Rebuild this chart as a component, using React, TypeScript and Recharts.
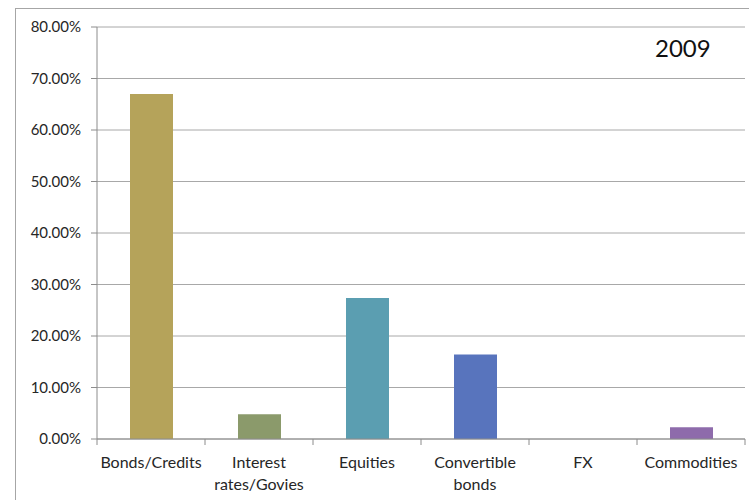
import React from 'react';
import { BarChart, Bar, XAxis, YAxis, CartesianGrid, Cell } from 'recharts';

const categories = ['Bonds/Credits', 'Interest rates/Govies', 'Equities', 'Convertible bonds', 'FX', 'Commodities'];
const labelLines = [['Bonds/Credits'], ['Interest', 'rates/Govies'], ['Equities'], ['Convertible', 'bonds'], ['FX'], ['Commodities']];
const shares = [0.67, 0.048, 0.274, 0.164, 0, 0.023];
const barColors = ['#b5a35a', '#8b9a6b', '#5b9eb1', '#5874bd', '#7f6a9e', '#8e6bab'];
const yTicks = [0, 0.1, 0.2, 0.3, 0.4, 0.5, 0.6, 0.7, 0.8];

const data = categories.map((name, i) => ({ name, value: shares[i], lines: labelLines[i] }));

const FONT = 'Lato, "Open Sans", sans-serif';
const AXIS = '#8c8c8c';
const BAND = 108;

function CategoryTick(props: any) {
  const { x, y, payload, index } = props;
  const lines = labelLines[index] ?? [payload.value];
  return (
    <g>
      <line x1={x - BAND / 2} x2={x - BAND / 2} y1={y - 8} y2={y - 2} stroke={AXIS} />
      {index === categories.length - 1 && (
        <line x1={x + BAND / 2} x2={x + BAND / 2} y1={y - 8} y2={y - 2} stroke={AXIS} />
      )}
      <text x={x} y={y + 21} textAnchor="middle" fill="#262626" fontSize={16} fontFamily={FONT}>
        {lines.map((l: string, i: number) => (
          <tspan key={i} x={x} dy={i === 0 ? 0 : 22}>{l}</tspan>
        ))}
      </text>
    </g>
  );
}

export default function App() {
  return (
    <div style={{ position: 'absolute', left: 0, top: 0, width: 749, height: 500, background: '#fff', overflow: 'hidden' }}>
      <div style={{ position: 'absolute', left: 15, top: 8, width: 760, height: 520, borderLeft: '1px solid #a6a6a6', borderTop: '1px solid #a6a6a6' }} />
      <BarChart
        width={749}
        height={500}
        data={data}
        margin={{ top: 27, right: 4, bottom: 0, left: 15 }}
        barSize={43}
      >
        <CartesianGrid vertical={false} stroke="#a8a8a8" />
        <XAxis
          dataKey="name"
          interval={0}
          axisLine={{ stroke: AXIS }}
          tickLine={false}
          tick={<CategoryTick />}
          height={61}
        />
        <YAxis
          width={82}
          domain={[0, 0.8]}
          ticks={yTicks}
          interval={0}
          tickFormatter={(v: number) => (v * 100).toFixed(2) + '%'}
          axisLine={{ stroke: AXIS }}
          tickLine={{ stroke: AXIS }}
          tickSize={6}
          tickMargin={10}
          tick={{ fontSize: 15, fill: '#262626', fontFamily: FONT }}
        />
        <Bar dataKey="value" isAnimationActive={false}>
          {data.map((d, i) => (
            <Cell key={d.name} fill={barColors[i]} />
          ))}
        </Bar>
      </BarChart>
      <div style={{ position: 'absolute', left: 655, top: 33, fontFamily: FONT, fontSize: 24, color: '#111' }}>2009</div>
    </div>
  );
}
